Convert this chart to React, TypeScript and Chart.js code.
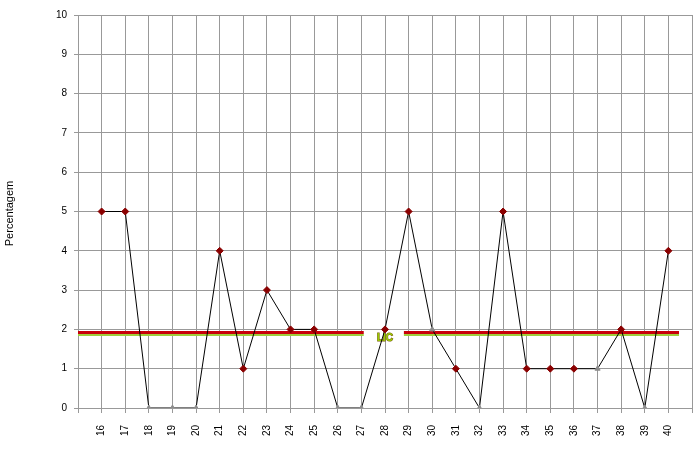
import React, { useEffect, useRef } from "react";
import { Chart, registerables } from "chart.js";

Chart.register(...registerables);

const categories = [16, 17, 18, 19, 20, 21, 22, 23, 24, 25, 26, 27, 28, 29, 30, 31, 32, 33, 34, 35, 36, 37, 38, 39, 40];
const percentages = [5, 5, 0, 0, 0, 4, 1, 3, 2, 2, 0, 0, 2, 5, 2, 1, 0, 5, 1, 1, 1, 1, 2, 0, 4];
const greyCategories = [18, 19, 20, 26, 27, 30, 32, 37, 39];
const licValue = 1.92;
const licGreenValue = 1.86;
const licSegmentsX = [[15, 27.1], [28.8, 40.45]];
const licLabel = "LIC";
const licLabelX = 28;
const yTicks = [0, 1, 2, 3, 4, 5, 6, 7, 8, 9, 10];
const yTitle = "Percentagem";

const FONT = "'Liberation Sans', Arial, sans-serif";
const GRID = "#999999";

function segData(v: number) {
  const out: any[] = [];
  licSegmentsX.forEach((s, i) => {
    if (i > 0) out.push({ x: (licSegmentsX[i - 1][1] + s[0]) / 2, y: null });
    out.push({ x: s[0], y: v }, { x: s[1], y: v });
  });
  return out;
}

const labelsPlugin = {
  id: "extraLabels",
  beforeDatasetsDraw(chart: any) {
    const ctx = chart.ctx;
    const xs = chart.scales.x;
    const ys = chart.scales.y;
    ctx.save();
    ctx.font = "bold 10px " + FONT;
    ctx.textAlign = "center";
    ctx.textBaseline = "middle";
    const lx = xs.getPixelForValue(licLabelX);
    const ly = ys.getPixelForValue(licGreenValue) + 3;
    ctx.lineWidth = 1;
    ctx.strokeStyle = "#7a5a10";
    ctx.strokeText(licLabel, lx, ly);
    ctx.fillStyle = "#99cc00";
    ctx.fillText(licLabel, lx, ly);
    ctx.restore();
  },
  afterDraw(chart: any) {
    const ctx = chart.ctx;
    const ys = chart.scales.y;
    ctx.save();
    ctx.font = "11px " + FONT;
    ctx.fillStyle = "#000";
    ctx.textAlign = "center";
    ctx.textBaseline = "middle";
    ctx.translate(10, (ys.top + ys.bottom) / 2 + 2);
    ctx.rotate(-Math.PI / 2);
    ctx.fillText(yTitle, 0, 0);
    ctx.restore();
  },
};

export default function App() {
  const ref = useRef<HTMLCanvasElement>(null);
  useEffect(() => {
    if (!ref.current) return;
    const mainData = categories.map((c, i) => ({ x: c, y: percentages[i] }));
    const isGrey = (i: number) => greyCategories.includes(categories[i]);
    const chart = new Chart(ref.current, {
      type: "line",
      data: {
        datasets: [
          {
            label: "Percentagem",
            data: mainData,
            borderColor: "#000000",
            borderWidth: 1,
            pointStyle: ((c: any) => (isGrey(c.dataIndex) ? "triangle" : "rectRot")) as any,
            pointRadius: ((c: any) => (isGrey(c.dataIndex) ? 3 : 3.5)) as any,
            pointBackgroundColor: ((c: any) => (isGrey(c.dataIndex) ? "#8c8c8c" : "#8b0000")) as any,
            pointBorderColor: ((c: any) => (isGrey(c.dataIndex) ? "#8c8c8c" : "#8b0000")) as any,
            pointBorderWidth: 1,
            tension: 0,
          },
          {
            label: "LIC",
            data: segData(licValue),
            borderColor: "#c8000a",
            borderWidth: 3,
            pointRadius: 0,
            spanGaps: false,
          },
          {
            label: "LIC2",
            data: segData(licGreenValue),
            borderColor: "#9fcf3c",
            borderWidth: 2,
            pointRadius: 0,
            spanGaps: false,
          },
        ],
      },
      options: {
        animation: false,
        responsive: false,
        layout: { padding: { top: 15, right: 8, left: 0, bottom: 0 } },
        plugins: { legend: { display: false }, tooltip: { enabled: false } },
        scales: {
          x: {
            type: "linear",
            min: 15,
            max: 41,
            afterBuildTicks: (s: any) => {
              const t: any[] = [{ value: 15 }];
              categories.forEach((c) => t.push({ value: c }));
              t.push({ value: 41 });
              s.ticks = t;
            },
            afterFit: (s: any) => {
              s.height = 49;
              s.paddingLeft = 0;
              s.paddingRight = 0;
            },
            ticks: {
              autoSkip: false,
              minRotation: 90,
              maxRotation: 90,
              padding: 12,
              color: "#000",
              font: { family: FONT, size: 10 },
              callback: (v: any) => (v === 15 || v === 41 ? "" : String(v)),
            },
            grid: { color: GRID, lineWidth: 1, tickLength: 5, tickColor: GRID },
            border: { color: GRID, width: 1 },
          },
          y: {
            min: 0,
            max: 10,
            afterBuildTicks: (s: any) => {
              s.ticks = yTicks.map((v) => ({ value: v }));
            },
            afterFit: (s: any) => {
              s.width = 78;
              s.paddingTop = 0;
              s.paddingBottom = 0;
            },
            ticks: {
              padding: 7,
              color: "#000",
              font: { family: FONT, size: 10 },
            },
            grid: { color: GRID, lineWidth: 1, tickLength: 4, tickColor: GRID },
            border: { color: GRID, width: 1 },
          },
        },
      },
      plugins: [labelsPlugin],
    } as any);
    return () => chart.destroy();
  }, []);
  return (
    <div style={{ position: "fixed", left: 0, top: 0, width: 700, height: 457, background: "#fff" }}>
      <canvas ref={ref} width={700} height={457} style={{ display: "block" }} />
    </div>
  );
}
